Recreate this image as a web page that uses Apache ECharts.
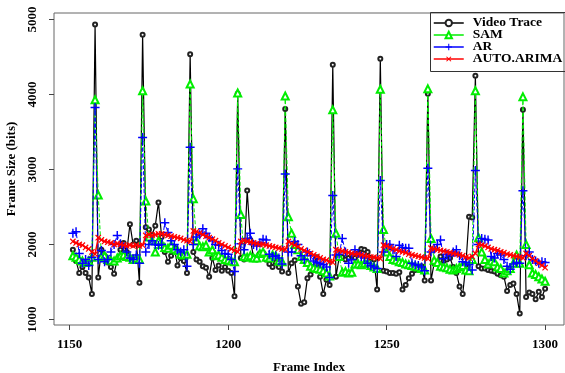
<!DOCTYPE html>
<html>
<head>
<meta charset="utf-8">
<script src="https://cdn.jsdelivr.net/npm/echarts@6/dist/echarts.min.js"></script>
<style>
html,body{margin:0;padding:0;background:#fff;}
#c{width:565px;height:373px;}
</style>
</head>
<body>
<div id="c"></div>
<script>
// Frame index runs 1151..1300
const firstFrame = 1151;
const xTicks = [1150, 1200, 1250, 1300];
const yTicks = [1000, 2000, 3000, 4000, 5000];
const seriesNames = ['Video Trace', 'SAM', 'AR', 'AUTO.ARIMA'];

const videoTrace = [
 1930,1780,1620,1700,1620,1560,1340,4932,1560,1930,1850,1760,1700,1610,1800,1930,2020,1900,2270,2000,2050,1490,4795,
 2230,2200,2130,2250,2560,2100,1900,1770,1850,1960,1720,1820,1780,1620,4537,
 1900,1800,1770,1710,1690,1570,1820,1660,1720,1650,1700,1650,1620,1310,4010,
 1820,1800,2720,2060,1830,1800,1880,1890,1800,1740,1700,1760,1700,1640,3805,
 1620,1750,1790,1440,1210,1230,1550,1600,1700,1830,1570,1340,1530,1460,4395,
 1570,1820,1830,1800,1820,1850,1820,1880,1940,1930,1900,1820,1800,1400,4475,
 1650,1640,1620,1620,1610,1630,1400,1460,1550,1610,1660,1700,1710,1520,4010,
 1520,1750,1760,1840,1780,1800,1820,1700,1620,1440,1340,1730,2370,2360,4250,
 1710,1680,1680,1660,1650,1640,1610,1590,1570,1380,1460,1480,1340,1080,3795,
 1300,1360,1340,1270,1370,1300,1410
];
const sam = [
 1850,1830,1800,1780,1760,1780,1830,3930,2660,1840,1850,1800,1790,1780,1820,1850,1860,1840,1830,1800,1820,1800,4050,
 2580,2100,2050,1900,2050,2000,1960,1950,1990,1940,1920,1870,1860,1870,4140,
 2610,2050,1980,1970,1990,1900,1930,1850,1860,1830,1800,1790,1780,1770,4020,
 2400,1840,1830,1850,1820,1820,1880,1900,1830,1820,1860,1850,1780,1770,3980,
 2370,2150,2000,1930,1840,1800,1760,1710,1690,1680,1670,1650,1620,1580,3795,
 2150,1840,1630,1640,1620,1630,1740,1740,1730,1750,1750,1720,1700,1680,4070,
 2200,1900,1840,1800,1790,1770,1760,1740,1730,1720,1710,1700,1680,1660,4075,
 2080,1790,1760,1710,1700,1690,1670,1660,1680,1700,1720,1660,1650,1800,4050,
 2090,1900,1800,1740,1780,1770,1700,1680,1620,1650,1680,1750,1860,1750,3968,
 2000,1730,1620,1600,1570,1540,1510
];
const ar = [
 2150,2170,1880,1750,1800,1720,1830,3825,1800,1920,1770,1800,1900,2000,2120,2010,1970,1900,1820,1800,1860,1750,3425,
 1900,2000,2050,2000,1990,2000,2290,2160,2050,2000,1930,1900,1930,1710,3297,
 2000,2100,2130,2210,2150,2090,2050,2000,1990,1920,1880,1870,1800,1640,3008,
 2010,1930,2080,2150,2000,1980,2020,2070,2060,1870,1840,1850,1820,1740,2940,
 1900,1900,2040,2000,1850,1800,1900,1850,1780,1760,1750,1730,1700,1560,2652,
 1860,1870,2080,1900,1750,1800,1930,1880,1840,1820,1750,1720,1700,1680,2852,
 1900,2000,2000,1930,1840,1990,1960,1950,1950,1750,1730,1720,1700,1650,3017,
 1900,1940,2000,2060,1810,1870,1850,1900,1930,1850,1770,1760,1730,1660,2985,
 2000,2080,2070,2060,1840,1820,1880,1860,1800,1710,1670,1740,1760,1750,2715,
 1850,1900,1800,1780,1750,1770,1760
];
const autoArima = [
 2040,2020,2000,1990,1960,1940,1900,1870,2090,2060,2040,2030,2020,2000,2010,2000,1990,1980,1990,1980,1990,1980,1990,
 2120,2130,2120,2130,2140,2140,2130,2120,2110,2100,2090,2080,2060,2050,2040,
 2180,2170,2150,2130,2110,2090,2070,2050,2020,2000,1980,1960,1940,1920,1900,
 2040,2050,2040,2030,2020,2010,2000,2000,1990,1980,1970,1960,1950,1940,1930,
 2040,2010,1990,1970,1940,1920,1900,1880,1860,1840,1820,1800,1790,1770,1760,
 1930,1920,1910,1900,1890,1880,1870,1870,1860,1850,1840,1830,1830,1820,1810,
 1990,1980,1960,1940,1930,1910,1900,1890,1870,1860,1850,1840,1830,1820,1810,
 1950,1940,1930,1920,1910,1900,1890,1880,1870,1860,1850,1830,1820,1840,1880,
 2000,1990,1980,1960,1940,1930,1920,1900,1890,1870,1860,1850,1840,1830,1820,
 1880,1850,1810,1780,1750,1720,1690
];

function pairs(arr){ return arr.map((v,i)=>[firstFrame+i, v]); }

const FONT = '"Liberation Serif","DejaVu Serif",serif';
const plusPath = 'path://M4.2,0H5.8V4.2H10V5.8H5.8V10H4.2V5.8H0V4.2H4.2Z';
const plain = v => String(v);

const chart = echarts.init(document.getElementById('c'), null, {renderer:'canvas'});
chart.setOption({
  animation: false,
  backgroundColor: '#fff',
  grid: {left: 54, right: 1, top: 13, bottom: 48, show: true, borderColor: '#666', borderWidth: 1,
         backgroundColor:'transparent', containLabel: false, outerBoundsMode: 'none'},
  xAxis: {
    type: 'value', min: 1145.04, max: 1305.96,
    splitLine: {show: false},
    axisLine: {show: false},
    axisTick: {show: true, length: 5, lineStyle:{color:'#444'}, customValues: xTicks},
    axisLabel: {customValues: xTicks, formatter: plain, color: '#000', fontFamily: FONT, fontWeight: 'bold', fontSize: 13, margin: 13},
    name: 'Frame Index', nameLocation: 'middle', nameGap: 36,
    nameTextStyle: {color:'#000', fontFamily: FONT, fontWeight:'bold', fontSize: 13}
  },
  yAxis: {
    type: 'value', min: 926, max: 5086,
    splitLine: {show: false},
    axisLine: {show: false},
    axisTick: {show: true, length: 5, lineStyle:{color:'#444'}, customValues: yTicks},
    axisLabel: {customValues: yTicks, formatter: plain, rotate: 90, color: '#000', fontFamily: FONT, fontWeight: 'bold', fontSize: 13, margin: 15},
    name: 'Frame Size (bits)', nameLocation: 'middle', nameGap: 34, nameRotate: 90,
    nameTextStyle: {color:'#000', fontFamily: FONT, fontWeight:'bold', fontSize: 13}
  },
  legend: {
    orient: 'vertical', left: 433, top: 16, itemGap: -2, padding: 0,
    itemWidth: 30, itemHeight: 8,
    data: seriesNames,
    lineStyle: {type: 'solid', width: 1.5},
    textStyle: {color:'#000', fontFamily: FONT, fontWeight:'bold', fontSize: 13.5, lineHeight: 12, padding: [0,0,0,4]}
  },
  graphic: [{
    type: 'rect', shape: {x: 430.5, y: 12.5, width: 150, height: 59},
    style: {fill: 'none', stroke: '#333', lineWidth: 1}, z: 100
  }],
  series: [
    {name: seriesNames[0], type: 'line', data: pairs(videoTrace), color: '#000',
     symbol: 'emptyCircle', symbolSize: 4, lineStyle: {width: 1.2, color:'#000'},
     itemStyle: {color:'#222', borderWidth: 1}, z: 2},
    {name: seriesNames[1], type: 'line', data: pairs(sam), color: '#00ee00',
     symbol: 'emptyTriangle', symbolSize: 7, lineStyle: {width: 1, color:'#00ee00', type:[4,2]},
     itemStyle: {color:'#00ee00', borderWidth: 1}, z: 3},
    {name: seriesNames[2], type: 'line', data: pairs(ar), color: '#0000ff',
     symbol: plusPath, symbolSize: 9, lineStyle: {width: 1, color:'#0000ff', type:[4,2]},
     itemStyle: {color:'#0000ff'}, z: 4},
    {name: seriesNames[3], type: 'line', data: pairs(autoArima), color: '#ff0000',
     symbol: plusPath, symbolRotate: 45, symbolSize: 7.5, lineStyle: {width: 1.5, color:'#ff0000'},
     itemStyle: {color:'#ff0000'}, z: 5}
  ]
});
</script>
</body>
</html>
